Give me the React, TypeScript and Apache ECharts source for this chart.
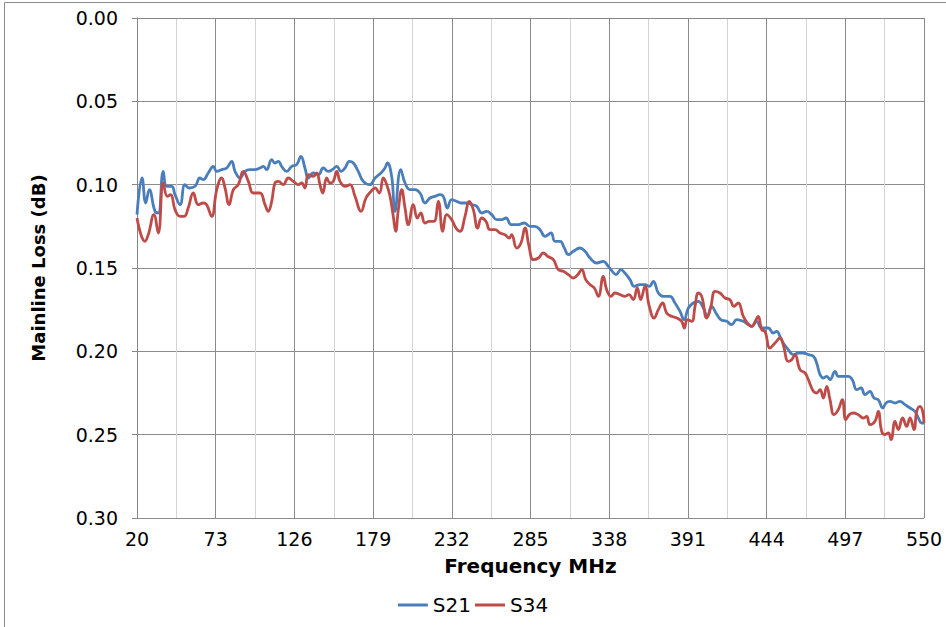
import React, { useEffect, useRef } from "react";
import * as echarts from "echarts";

const xTicks = [20, 73, 126, 179, 232, 285, 338, 391, 444, 497, 550];
const yTicks = [0, 0.05, 0.1, 0.15, 0.2, 0.25, 0.3];
const seriesNames = ["S21", "S34"];

const s21: [number, number][] = [
  [20, 0.118], [23.4, 0.096], [25.9, 0.111], [28.3, 0.103], [32.1, 0.116], [34.3, 0.117], [37.7, 0.092], [40, 0.101],
  [43.4, 0.101], [45.6, 0.106], [49, 0.112], [52.3, 0.1], [55.2, 0.102], [59.1, 0.101], [62.4, 0.096], [64.6, 0.097],
  [68, 0.093], [71.4, 0.089], [73.7, 0.092], [77, 0.091], [80.4, 0.09], [83.8, 0.086], [86, 0.092], [89.4, 0.096],
  [92.7, 0.092], [96.1, 0.091], [99.5, 0.091], [102.8, 0.09], [105.1, 0.089], [107.3, 0.091], [110.7, 0.085], [112.9, 0.087],
  [115.2, 0.086], [117.4, 0.089], [120.8, 0.092], [124.2, 0.089], [127.5, 0.088], [130.4, 0.083], [133.1, 0.09], [135.4, 0.096],
  [138.7, 0.093], [142.1, 0.094], [145.5, 0.09], [148.8, 0.092], [151.5, 0.091], [154.5, 0.089], [157.4, 0.092], [160.1, 0.09],
  [163, 0.086], [165.7, 0.087], [169, 0.092], [172.4, 0.098], [176.9, 0.1], [180.3, 0.096], [184.3, 0.093], [187, 0.09],
  [188.6, 0.087], [191.5, 0.095], [193.7, 0.116], [197.6, 0.091], [200.5, 0.099], [203.8, 0.103], [207.2, 0.103], [210.6, 0.105],
  [214, 0.111], [217.3, 0.108], [220.7, 0.107], [224, 0.106], [226.3, 0.107], [229, 0.114], [231.9, 0.109], [235.3, 0.11],
  [238.7, 0.111], [242, 0.111], [245.4, 0.112], [248.8, 0.113], [252.1, 0.117], [255.5, 0.116], [258.9, 0.118], [262.2, 0.121],
  [265.6, 0.121], [268.5, 0.12], [272, 0.124], [276.8, 0.124], [280.8, 0.123], [284.7, 0.125], [288, 0.125], [291.4, 0.127],
  [294.8, 0.131], [298.8, 0.129], [301.5, 0.134], [304.9, 0.134], [307.8, 0.138], [310.5, 0.142], [313.8, 0.14], [318.3, 0.138],
  [321.7, 0.14], [325.1, 0.144], [329.6, 0.147], [334, 0.146], [337.4, 0.149], [340.1, 0.152], [342.6, 0.154], [345.9, 0.151],
  [348.6, 0.153], [352, 0.157], [354.9, 0.161], [358.7, 0.16], [362.1, 0.16], [365, 0.161], [367.7, 0.158], [371.1, 0.165],
  [374.4, 0.167], [378.9, 0.167], [382.3, 0.171], [385.7, 0.176], [388.4, 0.181], [391.3, 0.174], [394.6, 0.171], [398, 0.17],
  [401.4, 0.174], [404.1, 0.179], [407, 0.173], [409.9, 0.177], [413.1, 0.181], [417.1, 0.182], [420.5, 0.184], [423.9, 0.181],
  [428.3, 0.182], [431.7, 0.184], [434, 0.185], [437.3, 0.182], [440.7, 0.186], [445.1, 0.186], [448.5, 0.189], [450.8, 0.188],
  [453, 0.191], [455.2, 0.195], [458.6, 0.199], [462, 0.202], [465.4, 0.201], [468.7, 0.201], [472.1, 0.202], [475.5, 0.203],
  [477.7, 0.207], [480, 0.214], [482.2, 0.216], [484.5, 0.215], [486.7, 0.217], [490.1, 0.212], [492.3, 0.215], [495.6, 0.215],
  [499, 0.215], [501.7, 0.217], [504.7, 0.223], [507.6, 0.222], [510.3, 0.226], [513.6, 0.224], [516.3, 0.228], [519.2, 0.229],
  [522.2, 0.234], [524.4, 0.231], [527.1, 0.23], [530.5, 0.231], [533.8, 0.23], [537.2, 0.232], [540.6, 0.234], [543.9, 0.236],
  [546.2, 0.24], [548.4, 0.243], [550, 0.243],
];

const s34: [number, number][] = [
  [20, 0.12], [25.4, 0.134], [27.6, 0.13], [31.4, 0.118], [34.3, 0.129], [37.7, 0.099], [40.4, 0.107], [42.7, 0.106],
  [45.6, 0.115], [49, 0.119], [51.7, 0.119], [54.5, 0.114], [57.9, 0.105], [61.3, 0.112], [64.6, 0.111], [66.9, 0.112],
  [70.3, 0.119], [73.7, 0.103], [77, 0.096], [79.3, 0.102], [82, 0.112], [84.9, 0.103], [88.2, 0.1], [91.6, 0.092],
  [95, 0.098], [98.3, 0.105], [102.8, 0.105], [106.2, 0.112], [108.4, 0.116], [110.7, 0.11], [112.9, 0.099], [115.2, 0.098],
  [118.5, 0.1], [121.9, 0.096], [125.3, 0.098], [128.6, 0.1], [130.9, 0.099], [133.1, 0.102], [135.4, 0.094], [138.7, 0.095],
  [141, 0.093], [143.2, 0.1], [145.1, 0.105], [147.8, 0.096], [150, 0.099], [152.2, 0.098], [154.5, 0.092], [156.7, 0.098],
  [160.1, 0.101], [163.4, 0.1], [166.8, 0.107], [170.9, 0.116], [174.2, 0.108], [177.6, 0.104], [180.3, 0.102], [183.2, 0.105],
  [185.9, 0.096], [188.2, 0.1], [190.4, 0.107], [192.6, 0.119], [194.2, 0.128], [196, 0.115], [198.3, 0.103], [200.5, 0.114],
  [202.7, 0.124], [206.1, 0.112], [208.8, 0.12], [211.1, 0.117], [214, 0.123], [216.8, 0.122], [220, 0.122], [222.9, 0.11],
  [225.9, 0.128], [228.6, 0.118], [231.9, 0.121], [234.8, 0.126], [237.5, 0.128], [240.9, 0.119], [243.8, 0.11], [246.5, 0.115],
  [249.4, 0.126], [252.1, 0.12], [255, 0.122], [257.7, 0.127], [261.1, 0.127], [264.5, 0.129], [267.8, 0.13], [270.7, 0.132],
  [272.3, 0.13], [275.7, 0.138], [278.6, 0.135], [281.3, 0.126], [284, 0.137], [286.9, 0.145], [290.3, 0.144], [293.6, 0.141],
  [296.6, 0.143], [300.4, 0.145], [303.7, 0.151], [307.1, 0.152], [310.5, 0.154], [313.8, 0.156], [316.8, 0.154], [319.5, 0.151],
  [322.2, 0.157], [325.1, 0.16], [328, 0.162], [330.7, 0.167], [334, 0.155], [336.3, 0.163], [339.2, 0.167], [341.9, 0.165],
  [345.3, 0.166], [348.6, 0.167], [351.3, 0.166], [354.2, 0.169], [356.9, 0.162], [359.2, 0.169], [362.1, 0.161], [365, 0.173],
  [368.2, 0.18], [371.1, 0.175], [374, 0.171], [376.7, 0.177], [380.1, 0.179], [383.5, 0.18], [386.8, 0.182], [388.6, 0.186],
  [390.6, 0.181], [393.6, 0.182], [395.8, 0.173], [398, 0.165], [400.3, 0.167], [403.7, 0.18], [406.3, 0.174], [409.3, 0.164],
  [412.6, 0.165], [416, 0.168], [419.3, 0.169], [422, 0.173], [424.9, 0.171], [428.3, 0.179], [431, 0.183], [434, 0.185],
  [436.9, 0.181], [438.4, 0.179], [440.7, 0.187], [442.9, 0.188], [446.3, 0.198], [449.7, 0.195], [453, 0.192], [455.2, 0.196],
  [458.6, 0.206], [460.9, 0.205], [463.1, 0.202], [466.5, 0.211], [469.9, 0.213], [472.1, 0.217], [475.5, 0.224], [477.7, 0.225],
  [480, 0.223], [482.2, 0.228], [484.5, 0.221], [486.7, 0.229], [489.4, 0.238], [492.3, 0.235], [495, 0.229], [497.3, 0.241],
  [499.7, 0.238], [502.4, 0.237], [505.7, 0.238], [509.1, 0.24], [511.4, 0.239], [513.6, 0.244], [517, 0.242], [519.2, 0.236],
  [521.5, 0.248], [523.7, 0.25], [526, 0.249], [527.8, 0.253], [530.5, 0.242], [532.7, 0.247], [535.6, 0.24], [538.3, 0.245],
  [540.6, 0.24], [543.3, 0.247], [545.1, 0.236], [547.3, 0.233], [549.1, 0.236], [550, 0.243],
];

const FONT = "'DejaVu Sans', Verdana, sans-serif";

export default function App() {
  const ref = useRef<HTMLDivElement>(null);
  useEffect(() => {
    if (!ref.current) return;
    const chart = echarts.init(ref.current, null, { renderer: "svg" });
    chart.setOption({
      animation: false,
      backgroundColor: "#ffffff",
      graphic: [
        {
          type: "rect",
          shape: { x: 4.5, y: 2.5, width: 960, height: 660 },
          style: { fill: "none", stroke: "#8a8a8a", lineWidth: 1 },
          silent: true,
          z: -10,
        },
      ],
      grid: { left: 137, right: 22, top: 18, bottom: 109, containLabel: false },
      legend: {
        bottom: 7,
        left: "center",
        itemWidth: 30,
        itemHeight: 3,
        itemGap: 4,
        icon: "rect",
        textStyle: { fontFamily: FONT, fontSize: 20, color: "#000" },
        data: seriesNames,
      },
      xAxis: {
        type: "value",
        min: 20,
        max: 550,
        interval: 53,
        name: "Frequency MHz",
        nameLocation: "middle",
        nameGap: 38,
        nameTextStyle: { fontFamily: FONT, fontSize: 20, fontWeight: "bold", color: "#000" },
        axisLine: { show: true, lineStyle: { color: "#868686", width: 1 } },
        axisTick: { show: true, length: 5, lineStyle: { color: "#868686" } },
        axisLabel: {
          fontFamily: FONT,
          fontSize: 19,
          color: "#000",
          margin: 11,
          customValues: xTicks,
          formatter: (v: number) => String(Math.round(v)),
        },
        splitLine: { show: true, lineStyle: { color: "#8c8c8c", width: 1 } },
        minorTick: { show: false, splitNumber: 2 },
        minorSplitLine: { show: true, lineStyle: { color: "#d4d4d4", width: 1 } },
      },
      yAxis: {
        type: "value",
        inverse: true,
        min: 0,
        max: 0.3,
        interval: 0.05,
        name: "Mainline Loss (dB)",
        nameLocation: "middle",
        nameGap: 90,
        nameTextStyle: { fontFamily: FONT, fontSize: 18, fontWeight: "bold", color: "#000" },
        axisLine: { show: true, lineStyle: { color: "#868686", width: 1 } },
        axisTick: { show: true, length: 5, lineStyle: { color: "#868686" } },
        axisLabel: {
          fontFamily: FONT,
          fontSize: 19,
          color: "#000",
          margin: 19,
          formatter: (v: number) => v.toFixed(2),
        },
        splitLine: { show: true, lineStyle: { color: "#8c8c8c", width: 1 } },
      },
      series: [
        {
          name: seriesNames[0],
          type: "line",
          data: s21,
          showSymbol: false,
          smooth: 0.45,
          lineStyle: { color: "#4A7EBB", width: 2.8 },
          itemStyle: { color: "#4A7EBB" },
          z: 2,
        },
        {
          name: seriesNames[1],
          type: "line",
          data: s34,
          showSymbol: false,
          smooth: 0.45,
          lineStyle: { color: "#BE4B48", width: 2.8 },
          itemStyle: { color: "#BE4B48" },
          z: 3,
        },
      ],
    });
    return () => chart.dispose();
  }, []);
  return (
    <div
      ref={ref}
      style={{ position: "absolute", left: 0, top: 0, width: 946, height: 627 }}
    />
  );
}
